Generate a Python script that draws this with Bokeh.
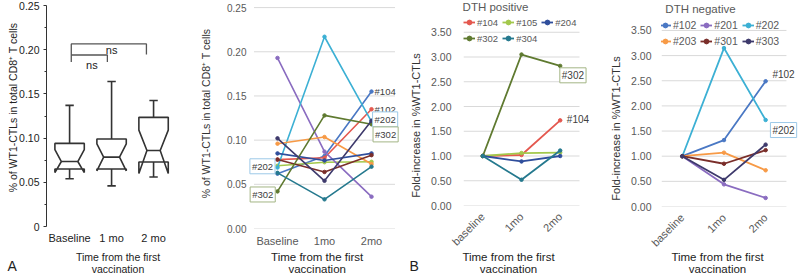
import math
from bokeh.plotting import figure
from bokeh.layouts import row
from bokeh.models import (FixedTicker, Label, Legend, LegendItem, Range1d,
                          NumeralTickFormatter, GridBox)
from bokeh.core.properties import value
from bokeh.embed import file_html
from bokeh.resources import INLINE

# ---------------- Panel A (left): notched box plot summary ----------------
box_groups = ["Baseline", "1 mo", "2 mo"]
box_whisker_low = [0.054, 0.046, 0.056]
box_q1 = [0.065, 0.065, 0.073]
box_notch_low = [0.061, 0.063, 0.060]
box_median = [0.0735, 0.0785, 0.086]
box_notch_high = [0.087, 0.0935, 0.109]
box_q3 = [0.094, 0.099, 0.1235]
box_whisker_high = [0.137, 0.164, 0.1425]

# ---------------- Panel A (right): individual patients ----------------
time_labels_a = ["Baseline", "1mo", "2mo"]
pat_a = ["#102", "#104", "#105", "#201", "#202", "#203", "#204", "#301", "#302", "#303", "#304"]
v102 = [0.062, 0.082, 0.155]
v104 = [0.078, 0.080, 0.135]
v105 = [0.071, 0.075, 0.0755]
v201 = [0.193, 0.087, 0.036]
v202 = [0.069, 0.217, 0.121]
v203 = [0.096, 0.1035, 0.073]
v204 = [0.085, 0.077, 0.085]
v301 = [0.078, 0.064, 0.083]
v302 = [0.042, 0.128, 0.118]
v303 = [0.102, 0.054, 0.122]
v304 = [0.063, 0.033, 0.070]
vals_a = [v102, v104, v105, v201, v202, v203, v204, v301, v302, v303, v304]

# ---------------- Panel B: fold increase ----------------
time_labels_b = ["baseline", "1mo", "2mo"]
pos_patients = ["#104", "#105", "#204", "#302", "#304"]
f104 = [1.00, 1.02, 1.72]
f105 = [1.00, 1.06, 1.07]
f204 = [1.00, 0.89, 1.00]
f302 = [1.00, 3.05, 2.82]
f304 = [1.00, 0.52, 1.11]
pos_vals = [f104, f105, f204, f302, f304]

neg_patients = ["#102", "#201", "#202", "#203", "#301", "#303"]
f102 = [1.00, 1.32, 2.49]
f201 = [1.00, 0.44, 0.17]
f202 = [1.00, 3.15, 1.72]
f203 = [1.00, 1.07, 0.72]
f301 = [1.00, 0.85, 1.12]
f303 = [1.00, 0.53, 1.23]
neg_vals = [f102, f201, f202, f203, f301, f303]

colors = {
    "#102": "#4a78c4", "#104": "#e4584f", "#105": "#a3c84c", "#201": "#8a6cc0",
    "#202": "#3cb0d4", "#203": "#f79a46", "#204": "#2f4e9c", "#301": "#7a2e2a",
    "#302": "#5f7a30", "#303": "#3e3a6c", "#304": "#25798e",
}

# titles
pct_title = "% of WT1-CTLs in total CD8⁺ T cells"
fold_title = "Fold-increase in %WT1-CTLs"
time_title = ["Time from the first", "vaccination"]
group_titles = ["DTH positive", "DTH negative"]
panel_letters = ["A", "B"]

FONT = "Liberation Sans"
GRAY = "#595959"
DARK = "#404040"
GRID = "#d9d9d9"


def base_fig(w, fh, x_range, y_range, left, right):
    p = figure(width=w, frame_height=fh, x_range=x_range, y_range=y_range,
               output_backend="svg", toolbar_location=None, min_border=0,
               min_border_left=left, min_border_right=right,
               min_border_top=0, min_border_bottom=0)
    p.outline_line_color = None
    p.background_fill_color = "white"
    p.border_fill_color = "white"
    p.xgrid.grid_line_color = None
    p.ygrid.grid_line_color = None
    for ax in (p.xaxis[0], p.yaxis[0]):
        ax.major_label_text_font = FONT
    return p


# =============== Panel 1 ===============
P1_PX = 884.0  # pixels per unit
p1 = base_fig(200, 226, Range1d(-0.55, 2.57), Range1d(0, 226 / P1_PX), 46, 23)
INK = "#333333"
box_x = list(range(len(box_groups)))
BOX_HALF = 0.35
NOTCH_HALF = [0.196, 0.189, 0.158]
CAP = 0.1
xs_list, ys_list = [], []
for i, x in enumerate(box_x):
    w, wn = BOX_HALF, NOTCH_HALF[i]
    xs_list.append([x - w, x + w, x + w, x + wn, x + w, x + w, x - w, x - w, x - wn, x - w])
    ys_list.append([box_q3[i], box_q3[i], box_notch_high[i], box_median[i], box_notch_low[i],
                    box_q1[i], box_q1[i], box_notch_low[i], box_median[i], box_notch_high[i]])
p1.patches(xs_list, ys_list, fill_color=None, line_color=INK, line_width=1.6)
p1.segment(x0=box_x, y0=box_q3, x1=box_x, y1=box_whisker_high, line_color=INK, line_width=1.6)
p1.segment(x0=box_x, y0=box_q1, x1=box_x, y1=box_whisker_low, line_color=INK, line_width=1.6)
p1.segment(x0=[x - CAP for x in box_x], y0=box_whisker_high, x1=[x + CAP for x in box_x],
           y1=box_whisker_high, line_color=INK, line_width=1.6)
p1.segment(x0=[x - CAP for x in box_x], y0=box_whisker_low, x1=[x + CAP for x in box_x],
           y1=box_whisker_low, line_color=INK, line_width=1.6)
p1.segment(x0=[x - NOTCH_HALF[i] for i, x in enumerate(box_x)], y0=box_median,
           x1=[x + NOTCH_HALF[i] for i, x in enumerate(box_x)], y1=box_median,
           line_color=INK, line_width=1.6)
# significance brackets
p1.line([0.04, 0.04, 1.83, 1.83], [0.186, 0.2065, 0.2065, 0.1945], line_color="#555555", line_width=1.3)
p1.line([0.04, 0.9, 0.9], [0.194, 0.194, 0.186], line_color="#555555", line_width=1.3)
p1.text(x=[1.0, 0.53], y=[0.1995, 0.1825], text=["ns", "ns"], text_font=value(FONT),
        text_font_size="11px", text_align="center", text_baseline="middle", text_color="#222222")

ya = p1.yaxis[0]
ya.ticker = FixedTicker(ticks=[0, 0.05, 0.10, 0.15, 0.20, 0.25],
                        minor_ticks=[0.025, 0.075, 0.125, 0.175, 0.225])
ya.bounds = (0, 0.25)
ya.formatter = NumeralTickFormatter(format="0.00")
ya.major_label_overrides = {0: "0"}
ya.axis_line_color = INK
ya.major_tick_line_color = INK
ya.minor_tick_line_color = INK
ya.major_tick_out = 3
ya.major_tick_in = 0
ya.minor_tick_out = 2
ya.minor_tick_in = 0
ya.major_label_text_font_size = "10.5px"
ya.major_label_text_color = "#222222"
ya.major_label_standoff = 4

xa = p1.xaxis[0]
xa.ticker = FixedTicker(ticks=box_x)
xa.major_label_overrides = {i: g for i, g in enumerate(box_groups)}
xa.axis_line_color = None
xa.major_tick_line_color = None
xa.minor_tick_line_color = None
xa.major_tick_out = 0
xa.major_tick_in = 0
xa.major_label_text_font_size = "11px"
xa.major_label_text_color = "#222222"
xa.major_label_standoff = 5


def excel_axes(p, ticks, fmt, ticklabels, cat_x, rotate=False, tick_size="10px",
               ystandoff=6, xstandoff=6):
    # horizontal gridlines spanning the category area only
    n = len(cat_x)
    p.segment(x0=[0] * len(ticks), y0=ticks, x1=[n] * len(ticks), y1=ticks,
              line_color=GRID, line_width=1, level="underlay")
    ya = p.yaxis[0]
    ya.ticker = FixedTicker(ticks=ticks)
    ya.formatter = NumeralTickFormatter(format=fmt)
    ya.axis_line_color = None
    ya.major_tick_line_color = None
    ya.minor_tick_line_color = None
    ya.major_tick_out = 0
    ya.major_tick_in = 0
    ya.major_label_text_color = GRAY
    ya.major_label_text_font_size = tick_size
    ya.major_label_standoff = ystandoff
    xa = p.xaxis[0]
    xa.ticker = FixedTicker(ticks=cat_x)
    xa.major_label_overrides = {c: t for c, t in zip(cat_x, ticklabels)}
    xa.axis_line_color = None
    xa.major_tick_line_color = None
    xa.minor_tick_line_color = None
    xa.major_tick_out = 0
    xa.major_tick_in = 0
    xa.major_label_text_color = GRAY
    xa.major_label_text_font_size = "11px"
    xa.major_label_standoff = xstandoff
    if rotate:
        xa.major_label_orientation = math.pi / 4


def box_label(p, x, y, text, border=None, size="9.5px"):
    p.add_layout(Label(x=x, y=y, text=text, text_font=FONT, text_font_size=size,
                       text_color=DARK, text_align="center", text_baseline="middle",
                       border_line_color=border, border_line_width=1,
                       background_fill_color="white" if border else None,
                       padding=2, level="overlay"))


# =============== Panel 2 ===============
P2_PX = 883.6
cat_a = [i + 0.5 for i in range(len(time_labels_a))]
p2 = base_fig(205, 228, Range1d(-5.5 / 47, 151.5 / 47), Range1d(0, 228 / P2_PX), 48, 0)
excel_axes(p2, [0, 0.05, 0.10, 0.15, 0.20, 0.25], "0.00", time_labels_a, cat_a,
           ystandoff=2, xstandoff=6)
for pid, vals in zip(pat_a, vals_a):
    p2.line(cat_a, vals, line_color=colors[pid], line_width=1.6)
    p2.scatter(cat_a, vals, size=3.5, color=colors[pid])
LBLUE = "#9cc9e8"
LGREEN = "#a3b585"
box_label(p2, 0.18, 0.0704, "#202", LBLUE)
box_label(p2, 0.185, 0.0385, "#302", LGREEN)
box_label(p2, 2.79, 0.155, "#104")
box_label(p2, 2.79, 0.1343, "#102")
box_label(p2, 2.79, 0.1235, "#202", LBLUE)
box_label(p2, 2.80, 0.1065, "#302", LGREEN)

# =============== Panel 3 ===============
cat_b = [i + 0.5 for i in range(len(time_labels_b))]
fold_ticks = [0, 0.5, 1.0, 1.5, 2.0, 2.5, 3.0, 3.5]
p3 = base_fig(195, 205, Range1d(0, 137 / 38.67), Range1d(0, 205 / 49.5), 58, 0)
excel_axes(p3, fold_ticks, "0.00", time_labels_b, cat_b, rotate=True,
           ystandoff=12, tick_size="10.5px", xstandoff=9)
items = []
for pid, vals in zip(pos_patients, pos_vals):
    r1 = p3.line(cat_b, vals, line_color=colors[pid], line_width=1.8)
    r2 = p3.scatter(cat_b, vals, size=3.5, color=colors[pid])
    items.append(LegendItem(label=pid, renderers=[r1, r2]))
leg3 = Legend(items=items, orientation="horizontal", ncols=3, location=(0, 161),
              glyph_width=12, glyph_height=12, label_height=12, label_standoff=2,
              spacing=4, padding=0, margin=0, border_line_color=None,
              background_fill_alpha=0, label_text_font=FONT,
              label_text_font_size="9.5px", label_text_color=GRAY)
p3.add_layout(leg3)
box_label(p3, 2.83, 2.63, "#302", LGREEN, size="10px")
box_label(p3, 2.96, 1.74, "#104", None, size="10px")

# =============== Panel 4 ===============
p4 = base_fig(200, 206, Range1d(0, 139 / 41.65), Range1d(0, 206 / 50.3), 61, 0)
excel_axes(p4, fold_ticks, "0.00", time_labels_b, cat_b, rotate=True,
           ystandoff=10, tick_size="10.5px", xstandoff=9)
items = []
for pid, vals in zip(neg_patients, neg_vals):
    r1 = p4.line(cat_b, vals, line_color=colors[pid], line_width=1.8)
    r2 = p4.scatter(cat_b, vals, size=3.5, color=colors[pid])
    items.append(LegendItem(label=pid, renderers=[r1, r2]))
leg4 = Legend(items=items, orientation="horizontal", ncols=3, location=(-2, 159),
              glyph_width=12, glyph_height=12, label_height=12, label_standoff=2,
              spacing=4, padding=0, margin=0, border_line_color=None,
              background_fill_alpha=0, label_text_font=FONT,
              label_text_font_size="10.5px", label_text_color=GRAY)
p4.add_layout(leg4)
box_label(p4, 2.93, 2.62, "#102", None, size="10px")
box_label(p4, 2.93, 1.52, "#202", LBLUE, size="10px")

# =============== transparent overlay: titles and panel letters (pixel space) ===============
H = 275
ov = figure(width=800, height=H, x_range=Range1d(0, 800), y_range=Range1d(0, H),
            output_backend="svg", toolbar_location=None, min_border=0,
            x_axis_type=None, y_axis_type=None)
ov.outline_line_color = None
ov.background_fill_color = None
ov.border_fill_color = None
ov.xgrid.grid_line_color = None
ov.ygrid.grid_line_color = None


def otext(x, y, txt, size, color="#222222", angle=0.0, align="center"):
    ov.text(x=[x], y=[H - y], text=[txt], angle=angle, text_font=value(FONT),
            text_font_size=size, text_color=color, text_align=align, text_baseline="middle")


# axis titles
otext(12, 107, pct_title, "10.5px", angle=math.pi / 2)
otext(205, 113, pct_title, "10.5px", color="#333333", angle=math.pi / 2)
otext(415.5, 125, fold_title, "11px", color="#333333", angle=math.pi / 2)
otext(615.5, 128, fold_title, "11px", color="#333333", angle=math.pi / 2)
for cx, y0, size in [(117.5, 256.5, "10.5px"), (316.7, 256.2, "11.5px"),
                     (508, 256.2, "11.5px"), (717, 256.2, "11.5px")]:
    otext(cx, y0, time_title[0], size)
    otext(cx, y0 + 12, time_title[1], size)
# group titles
otext(495, 6.5, group_titles[0], "11.5px", color=GRAY)
otext(700, 8, group_titles[1], "11.5px", color=GRAY)
# panel letters
otext(7, 265, panel_letters[0], "14px", align="left")
otext(409, 265, panel_letters[1], "14px", align="left")

rw = row(p1, p2, p3, p4)
layout = GridBox(children=[(rw, 0, 0), (ov, 0, 0)])
open("out.html", "w").write(file_html(layout, INLINE))
